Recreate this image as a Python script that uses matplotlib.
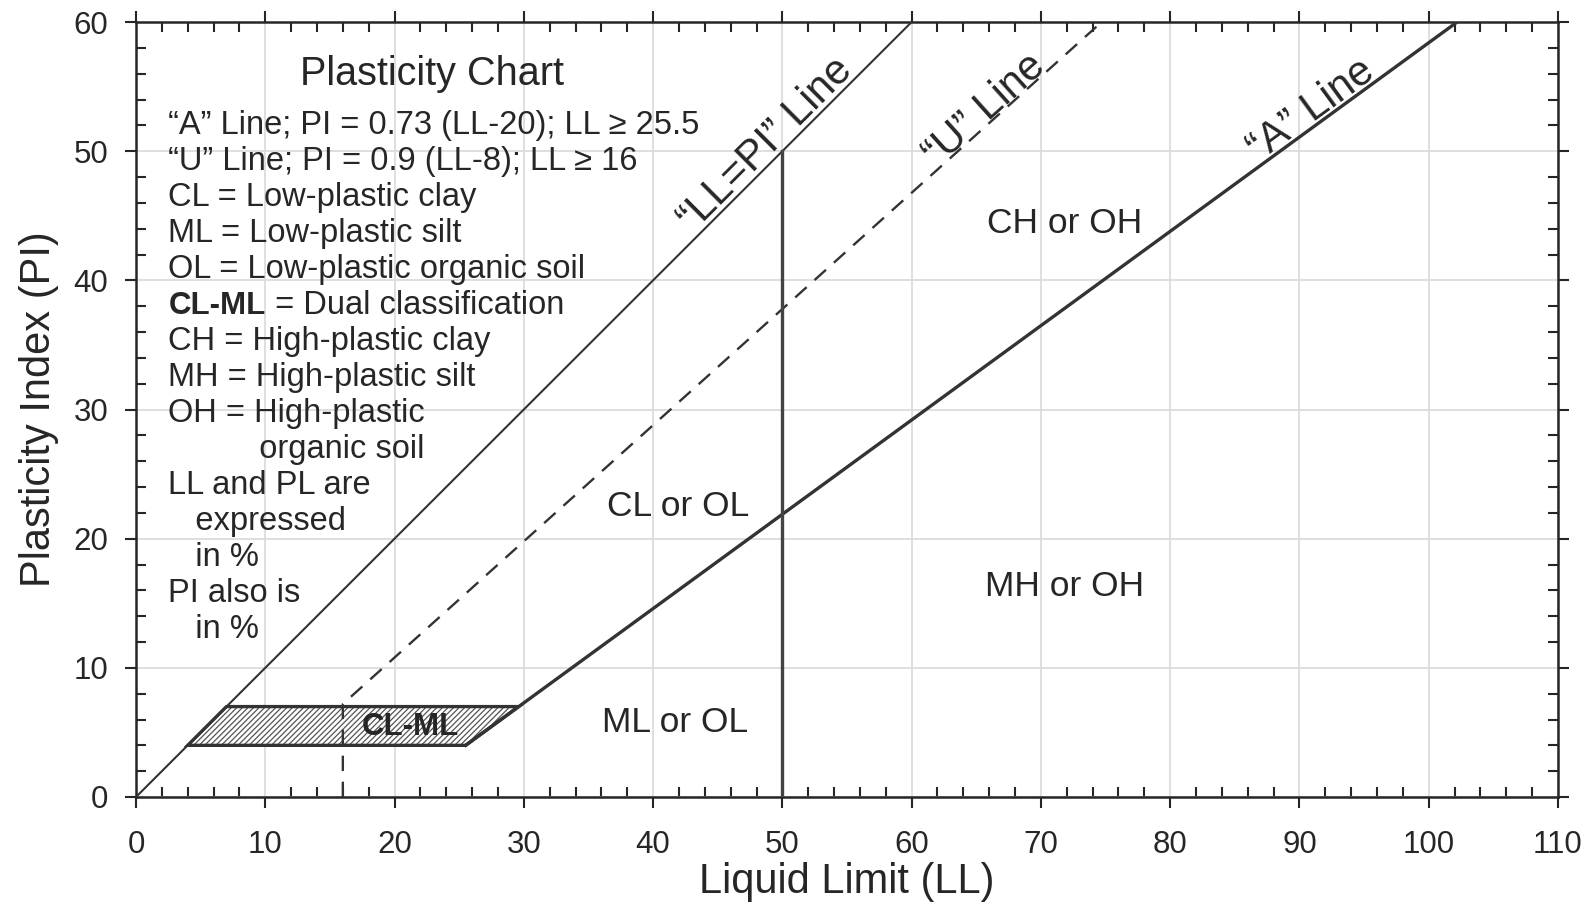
import numpy as np
import matplotlib
matplotlib.use("Agg")
import matplotlib.pyplot as plt
from matplotlib.ticker import MultipleLocator

plt.rcParams["font.family"] = ["Liberation Sans", "DejaVu Sans"]
plt.rcParams["hatch.linewidth"] = 0.9
plt.rcParams["hatch.color"] = "#555555"

# chart lines (LL, PI)
llpi_ll = [0, 60]
llpi_pi = [0, 60]
a_ll = [25.5, 102.2]
a_pi = [4, 60]
u_ll = [16, 16, 74.7]
u_pi = [0, 7.2, 60]
ll50_ll = [50, 50]
ll50_pi = [0, 50]
clml_ll = [4, 25.5, 29.6, 7]
clml_pi = [4, 4, 7, 7]

# zone labels
zone_names = ["CH or OH", "CL or OL", "MH or OH", "ML or OL"]
zone_ll = [71.8, 41.9, 71.8, 41.7]
zone_pi = [44.4, 22.5, 16.3, 5.8]

notes = [
    "\u201cA\u201d Line; PI = 0.73 (LL-20); LL \u2265 25.5",
    "\u201cU\u201d Line; PI = 0.9 (LL-8); LL \u2265 16",
    "CL = Low-plastic clay",
    "ML = Low-plastic silt",
    "OL = Low-plastic organic soil",
    "CL-ML",
    "CH = High-plastic clay",
    "MH = High-plastic silt",
    "OH = High-plastic",
    "          organic soil",
    "LL and PL are",
    "   expressed",
    "   in %",
    "PI also is",
    "   in %",
]

INK = "#262626"
LINE = "#333333"


def line_label(ax, xs, ys, at, text, off_px):
    y_at = np.interp(at, xs, ys)
    p0 = ax.transData.transform((xs[0], ys[0]))
    p1 = ax.transData.transform((xs[-1], ys[-1]))
    ang = np.arctan2(p1[1] - p0[1], p1[0] - p0[0])
    off = off_px * 72 / 100
    ax.annotate(text, xy=(at, y_at), xytext=(-np.sin(ang) * off, np.cos(ang) * off),
                textcoords="offset points", rotation=np.degrees(ang),
                rotation_mode="anchor", ha="center", va="baseline",
                fontsize=30, color=INK)


def main():
    fig = plt.figure(figsize=(15.9, 9.15), dpi=100)
    ax = fig.add_axes([136 / 1590, 1 - 797 / 915, 1422 / 1590, 775 / 915])
    ax.set_xlim(0, 110)
    ax.set_ylim(0, 60)
    ax.xaxis.set_major_locator(MultipleLocator(10))
    ax.yaxis.set_major_locator(MultipleLocator(10))
    ax.xaxis.set_minor_locator(MultipleLocator(2))
    ax.yaxis.set_minor_locator(MultipleLocator(2))
    ax.grid(True, which="major", color="#d9d9d9", lw=1.2)
    ax.set_axisbelow(True)
    for s in ax.spines.values():
        s.set_linewidth(1.8)
        s.set_color(INK)
    ax.tick_params(which="major", direction="out", length=8, width=1.5,
                   top=True, right=True, labelsize=22.5, colors=INK)
    ax.tick_params(which="minor", direction="in", length=7, width=1.5,
                   top=True, right=True, colors=INK)
    ax.tick_params(axis="x", which="major", pad=16)
    ax.tick_params(axis="y", which="major", pad=12)

    ax.fill(clml_ll, clml_pi, facecolor="white", hatch="//////", lw=0, zorder=2)
    ax.fill(clml_ll, clml_pi, facecolor="none", edgecolor=LINE, lw=2.4, zorder=3)
    ax.plot(llpi_ll, llpi_pi, color=LINE, lw=1.5, zorder=3)
    ax.plot(a_ll, a_pi, color=LINE, lw=2.4, zorder=3)
    ax.plot(u_ll, u_pi, color=LINE, lw=1.7, ls=(0, (6.5, 4.5)), zorder=3)
    ax.plot(ll50_ll, ll50_pi, color="#444444", lw=2.4, zorder=3)

    line_label(ax, llpi_ll, llpi_pi, 49.6, "\u201cLL=PI\u201d Line", 5)
    line_label(ax, u_ll[1:], u_pi[1:], 66.3, "\u201cU\u201d Line", 2)
    line_label(ax, a_ll, a_pi, 91.6, "\u201cA\u201d Line", 4)

    for name, x, y in zip(zone_names, zone_ll, zone_pi):
        ax.text(x, y, name, ha="center", va="center", fontsize=25.5, color=INK)
    ax.text(21.2, 5.4, "CL-ML", ha="center", va="center", fontsize=22.5,
            fontweight="bold", color=INK, zorder=4)

    ax.text(22.9, 56.0, "Plasticity Chart", ha="center", va="center",
            fontsize=28.5, color=INK)
    for i, line in enumerate(notes):
        y = 52.0 - i * 2.79
        if line == "CL-ML":
            t = ax.text(2.5, y, line, ha="left", va="center", fontsize=22.5,
                        fontweight="bold", color=INK)
            ax.annotate(" = Dual classification", xy=(1, 0.5), xycoords=t,
                        ha="left", va="center", fontsize=23.5, color=INK)
        else:
            ax.text(2.5, y, line, ha="left", va="center", fontsize=23.5, color=INK)

    ax.set_xlabel("Liquid Limit (LL)", fontsize=30, color=INK, labelpad=1)
    ax.set_ylabel("Plasticity Index (PI)", fontsize=30, color=INK, labelpad=10)

    fig.savefig("out.png", dpi=100)


if __name__ == "__main__":
    main()
